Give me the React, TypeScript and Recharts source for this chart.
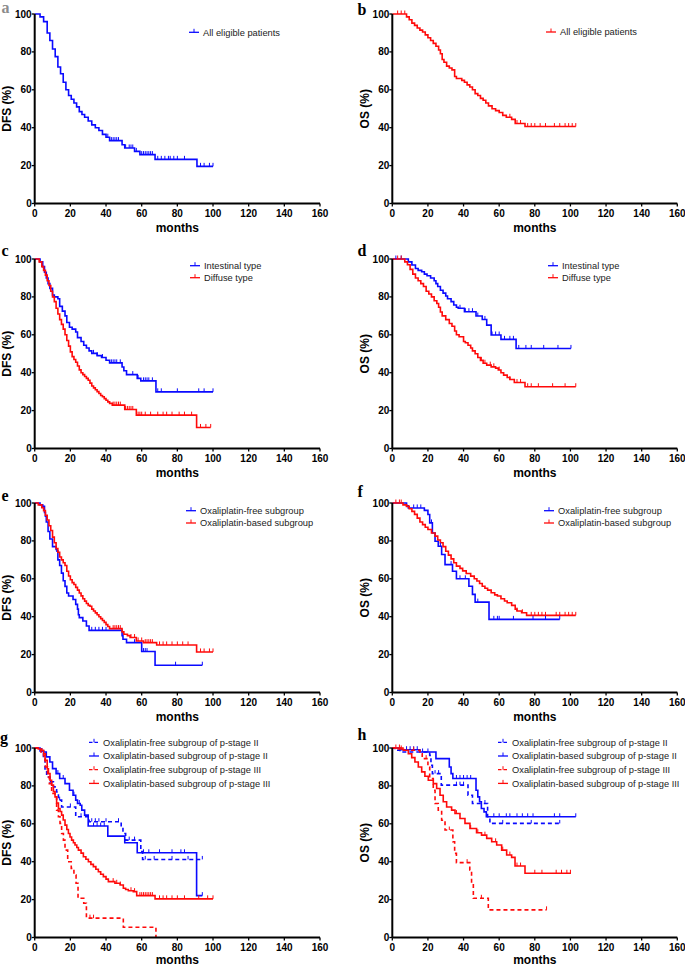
import React from 'react';
import { LineChart, Line, XAxis, YAxis } from 'recharts';

const X_TICKS = [0, 20, 40, 60, 80, 100, 120, 140, 160];
const Y_TICKS = [0, 20, 40, 60, 80, 100];
const BLUE = '#0a0aff';
const RED = '#ff0a0a';
const SANS = "'Liberation Sans', Arial, sans-serif";

// a: DFS, all eligible patients
const aT = [0, 3, 5, 7, 8.5, 10, 11.5, 13, 14.5, 16, 17.5, 19, 20.5, 22, 23.5, 25, 26.5, 28, 30, 32, 34, 36, 38, 40, 42, 49, 50.5, 56, 59, 67.5, 91, 100];
const aS = [100, 98.5, 96, 90, 86, 81.5, 77.5, 72, 68.5, 64, 60, 57, 55, 53, 51, 48.5, 47, 45.5, 43.5, 41.5, 40, 38.5, 36.5, 35, 33.2, 31, 29.3, 27.5, 25.8, 23.3, 19.6, 19.6];
const aC = [41, 43, 44, 45, 46, 47, 51, 53, 54, 55, 57, 60, 61, 62, 63, 64, 65, 66, 69, 71, 73, 75, 76, 78, 80, 84, 93, 95, 98, 100];

// b: OS, all eligible patients
const bT = [0, 8, 9.5, 11, 12.5, 14, 15.5, 17, 18.5, 20, 21.5, 23, 24.5, 26, 27, 28, 29, 30.5, 32, 33.5, 35, 36, 39, 40.5, 42, 43.5, 45, 46.5, 48, 49.5, 51, 52.5, 54, 56, 58, 60, 62, 64, 67, 69, 74.5, 103];
const bS = [100, 98.5, 97, 95.2, 94, 92.6, 91.5, 90.5, 89, 87.5, 86, 84.5, 83, 81, 79, 76, 74.5, 72.5, 71.5, 70.5, 67, 66, 65, 64, 62.6, 61.5, 60, 58, 57, 55.5, 54.5, 53, 51.5, 50, 49, 48, 46.5, 45.5, 44.4, 42.2, 40.6, 40.6];
const bC = [3, 5, 7, 66, 70, 72, 76, 78, 80, 83, 86, 91, 94, 97, 99, 101, 103];

// c: DFS by Lauren type
const cIntT = [0, 3, 4.5, 5.5, 6.5, 7.5, 8.5, 10, 11, 13, 14, 15.5, 17, 18, 19.5, 21, 23, 24, 26, 27.5, 29, 30.5, 32, 35, 37.5, 40, 42, 49, 50, 51.5, 57.5, 59.5, 68, 100];
const cIntS = [100, 98.5, 96, 93, 90, 87, 84.5, 81, 80, 79, 75, 72.5, 70, 66.5, 64, 63, 61.5, 58.5, 56.5, 54.5, 53, 51.5, 50.2, 49, 48, 46.6, 45.2, 43, 41, 39, 37, 35.7, 29.9, 29.9];
const cIntC = [33, 35, 38, 43, 44, 45, 46, 48, 55, 58, 61, 62, 63, 64, 66, 69, 71, 80, 92, 95, 100];
const cDifT = [0, 2.5, 4, 5, 6, 7, 8, 9, 10, 11, 12, 13, 14, 15, 16, 17, 18, 19, 20, 21, 22, 23, 24, 25, 26, 27, 28, 29, 30, 31, 32, 33, 34, 35, 36, 37, 38, 39, 40, 41, 42, 43.5, 50.5, 57, 90.8, 98.7];
const cDifS = [100, 98.5, 96, 94, 91.5, 88.5, 86, 83, 80, 77.5, 74, 71, 68, 65.5, 63, 60, 57, 54, 51, 48.5, 47, 45.5, 43.5, 41.5, 40, 39, 38, 37, 36, 34.5, 33, 32, 31, 30, 29, 28, 27.3, 26.3, 25.5, 24.6, 23.8, 22.9, 20.6, 17.6, 11.1, 11.1];
const cDifC = [44, 45, 46, 47, 48, 51, 52, 53, 54, 55, 58, 59, 60, 62, 65, 69, 72, 74, 77, 81, 84, 88, 93, 96, 98.7];

// d: OS by Lauren type
const dIntT = [0, 9, 11, 13, 14.5, 16.5, 18, 19.5, 21.5, 23.5, 24.5, 25.5, 27, 28.5, 30, 31, 33, 34.5, 36, 37, 40.5, 47, 50.5, 53, 55.5, 61, 69.5, 100.3];
const dIntS = [100, 98.5, 96.8, 95, 94, 93.3, 92, 91.2, 90, 88.5, 87, 85.5, 83.5, 82, 80.5, 79, 77.5, 75.7, 74.5, 74, 72.2, 69.9, 68.1, 65.1, 59.9, 57.6, 52.8, 52.8];
const dIntC = [2, 5, 38, 41, 43, 45, 48, 52, 56, 58, 60, 63, 66, 68, 71, 75, 78, 85, 93, 100.3];
const dDifT = [0, 7, 8.5, 10, 11.5, 13, 14.5, 16, 17.5, 19, 20.5, 22, 23.5, 25, 26, 27, 28, 30, 32, 33.5, 35, 36, 37.5, 40, 41, 42.5, 44, 45, 46.5, 48, 49.5, 51, 53, 55.5, 58, 59.5, 61, 62.5, 64.5, 66, 68.5, 74.5, 103];
const dDifS = [100, 98.5, 97, 94.5, 92, 90, 88.5, 87, 85.5, 83, 81.5, 80, 78, 76.5, 74.5, 72, 70, 68, 66, 64.5, 62, 60, 59, 56.5, 55.8, 54.5, 53, 51.5, 50, 48, 46.5, 45, 44, 43.1, 42.4, 41.4, 40, 38.7, 37.5, 36.4, 34.8, 32.6, 32.6];
const dDifC = [3, 5, 50, 52, 55, 57, 60, 66, 70, 72, 76, 78, 82, 90, 97, 103];

// e: DFS by chemotherapy regimen
const eFreeT = [0, 3, 4.5, 5.5, 6, 6.5, 7.5, 8.5, 10, 12, 12.5, 13, 14, 15, 16, 17, 18, 19, 21.5, 23, 24, 24.5, 25, 27, 29, 30.5, 49, 49.5, 51.5, 60, 67.5, 94];
const eFreeS = [100, 99, 98.2, 95, 93, 90, 85, 81, 77, 75.5, 74.6, 70, 67, 63, 59, 56, 52.5, 50.9, 49.1, 46.5, 44, 41, 39.5, 37.7, 35.1, 32.8, 30, 28.1, 26.3, 21.6, 14.4, 14.4];
const eFreeC = [32, 34, 36, 38, 40, 56, 61, 62, 63, 79, 94];
const eBasedT = [0, 2, 4, 5, 6, 7, 8, 9, 10, 11, 12, 13, 14, 15, 16, 17, 18, 19, 20, 21, 22, 23, 24, 25, 26, 27, 28, 29, 30, 31, 32, 33, 34, 35, 36, 37, 38, 39, 40, 41, 42, 49, 50, 52, 53.5, 57, 61, 68.4, 90.8, 100];
const eBasedS = [100, 99, 97.5, 96, 93.5, 91, 88, 85.5, 82, 79, 76, 74, 71.5, 70, 68.5, 67, 64, 61.5, 59.5, 58, 57, 55.5, 54, 52.5, 51, 49.5, 48.2, 47, 46, 45.5, 44, 43, 42, 41, 40, 39, 38, 37, 35.8, 34.8, 33.7, 32, 30.7, 30, 29, 27.2, 26.3, 25.1, 21.4, 21.4];
const eBasedC = [44, 45, 46, 47, 48, 54, 56, 58, 60, 62, 63, 64, 65, 66, 70, 72, 74, 77, 80, 83, 86, 93, 95, 98, 100];

// f: OS by chemotherapy regimen
const fFreeT = [0, 8, 9, 18, 20, 21, 22.5, 24, 25.8, 27.7, 29.6, 33.8, 36, 43, 45, 46.5, 54.3, 94];
const fFreeS = [100, 98.5, 97.4, 96.1, 93.9, 89.5, 84.2, 79.8, 77.2, 72.8, 67.5, 64, 60, 56.1, 51.8, 47.7, 38.6, 38.6];
const fFreeC = [12, 14, 16, 22, 27, 33, 38, 41, 48, 57, 59, 60, 68, 79, 86, 94];
const fBasedT = [0, 6, 8, 9.5, 11, 12.5, 14, 15.5, 17, 18.5, 20, 22, 24, 25.5, 27, 28.5, 30, 31.5, 33, 34.5, 36, 38, 39.5, 41.5, 44, 46, 47.5, 49, 50.5, 52, 53.5, 55.5, 57.5, 59, 61, 63, 64.5, 67, 69, 70, 72.6, 75.4, 103];
const fBasedS = [100, 99, 98.2, 97, 95.6, 94, 92, 90, 88.6, 87.2, 86, 84.2, 82.5, 80.5, 79, 77, 74.5, 72.5, 70.5, 68.5, 66.7, 65.5, 64.2, 62.8, 61.4, 60, 58.8, 57.5, 56.1, 55, 54, 52.6, 51.5, 50.9, 49.5, 48.3, 47.4, 46, 44, 43, 42.1, 40.7, 40.7];
const fBasedC = [2, 4, 5, 70, 73, 78, 80, 82, 84, 86, 92, 94, 97, 99, 101, 103];

// g: DFS by regimen within p-stage
const gFree2T = [0, 3.9, 4.9, 5.8, 6.7, 8.6, 10.5, 12.3, 13.3, 15.1, 23, 30.5, 48.5, 49.5, 51, 59.5, 60.5, 94];
const gFree2S = [100, 97.9, 94.4, 88.2, 84.7, 82.1, 79.5, 76.8, 72.5, 68.9, 63.7, 61.1, 58.4, 54.9, 51.4, 45.3, 41.2, 41.2];
const gFree2C = [14, 20, 26, 32, 34, 36, 40, 47, 53, 56, 62, 67, 77, 86, 94];
const gBased2T = [0, 3, 5, 6.5, 8.5, 10, 12, 14, 17, 19.5, 21.5, 23, 24, 25.5, 26.4, 28, 30, 41, 50.5, 57.5, 90.8, 94];
const gBased2S = [100, 98.5, 97.9, 95.3, 92.6, 89.1, 86.5, 83.9, 81.2, 77.7, 75.1, 72.5, 70.7, 69.8, 67.2, 64.6, 58.8, 53.5, 50, 44.7, 22.1, 22.1];
const gBased2C = [10, 13, 16, 22, 25, 33, 35, 37, 39, 61, 64, 70, 77, 82, 84, 94];
const gFree3T = [0, 3.5, 6, 7.2, 8.2, 9.5, 11.4, 12.3, 13.3, 14.2, 15.1, 16.1, 17, 18.5, 20.5, 22, 23.2, 24.3, 27.5, 29, 49.7, 68];
const gFree3S = [100, 97, 90, 84.7, 81.2, 76, 74.2, 67.2, 63.7, 60.2, 54.9, 51.4, 46.1, 40, 36.5, 33, 28.6, 20.7, 18.1, 10.2, 5.4, 0];
const gFree3C = [31, 33];
const gBased3T = [0, 2, 3.9, 5, 5.8, 7, 7.7, 8.6, 9.5, 10.5, 11.4, 12.3, 13.3, 14.2, 15.1, 16, 17, 18, 18.9, 19.8, 20.7, 21.7, 22.6, 23.6, 24.5, 26, 27.3, 28.7, 30.1, 31.5, 32.9, 34.3, 35.7, 37, 38.5, 40, 41.3, 45, 47.9, 49.7, 51, 52.5, 55.3, 57.2, 67.5, 100];
const gBased3S = [100, 99.5, 98.8, 96, 93.5, 89, 86.5, 83, 80.4, 77, 74.2, 71, 68.1, 66.5, 64.6, 62, 59.3, 57, 54.9, 53, 51.4, 50, 48.8, 47.5, 46.1, 44.5, 42.6, 41.3, 40, 38.6, 37.4, 36, 34.7, 33.4, 32.1, 30.8, 29.5, 28.6, 27.7, 26, 25.3, 24.7, 24.2, 22.1, 20.4, 20.4];
const gBased3C = [44, 46, 48, 54, 56, 59, 60, 61, 62, 63, 64, 65, 66, 70, 72, 74, 77, 80, 84, 92, 97, 100];

// h: OS by regimen within p-stage
const hFree2T = [0, 1.5, 4.3, 21, 21.7, 22.5, 27.5, 42.5, 45, 53.5, 54.8, 94];
const hFree2S = [100, 98.8, 97.9, 96.1, 90.9, 86.5, 80.4, 75.1, 70.7, 63.7, 60.2, 60.2];
const hFree2C = [24, 26, 36, 38, 40, 52, 62, 78, 94];
const hBased2T = [0, 4.3, 15.5, 24.5, 32, 33, 34, 47, 48, 49, 50, 51.5, 52.8, 103];
const hBased2S = [100, 99.1, 97.9, 94.4, 90, 86.5, 83.9, 77.7, 74.2, 71.6, 68.1, 66.3, 63.7, 63.7];
const hBased2C = [8, 10, 12, 14, 17, 20, 36, 38, 40, 42, 44, 57, 60, 64, 66, 70, 73, 76, 79, 91, 94, 103];
const hFree3T = [0, 6, 15.5, 16.8, 20, 21, 23, 24, 25.8, 27.7, 29.6, 34, 35, 36, 43.5, 44.5, 45.5, 53.9, 86.6];
const hFree3S = [100, 98.8, 97, 94.4, 90, 83.9, 77.7, 70.7, 67.2, 61.9, 56.7, 50.5, 44.4, 39.5, 35.6, 28.6, 20.7, 14.6, 14.6];
const hFree3C = [4, 12, 19, 32, 42, 50, 86.6];
const hBased3T = [0, 3.4, 6.2, 9, 10.9, 12.7, 14.6, 16.5, 18.3, 20.2, 23, 24.9, 26.8, 28.6, 30.5, 33.3, 35.2, 38, 40.8, 43.6, 47.3, 50.1, 53, 55.8, 58.6, 61.4, 64.2, 67, 68.9, 74.5, 100.3];
const hBased3S = [100, 99.5, 98.8, 97, 94.9, 92.6, 90, 87.4, 85.1, 83, 81.2, 78.6, 75.1, 71.6, 68.9, 67.2, 65.4, 62.8, 60.2, 57.5, 55.3, 54, 52.3, 50.5, 48.8, 46.1, 43.5, 42.3, 37.7, 33.9, 33.9];
const hBased3C = [2, 5, 36, 44, 48, 52, 58, 62, 66, 70, 72, 80, 84, 92, 95, 98, 100];

type Curve = { name: string; color: string; dashed?: boolean; t: number[]; s: number[]; cens: number[] };
type Pt = { t: number; s: number; c: number };

function buildData(cv: Curve): Pt[] {
  const pts: Pt[] = cv.t.map((t, i) => ({ t, s: cv.s[i], c: 0 }));
  cv.cens.forEach((ct) => {
    let v = cv.s[0];
    cv.t.forEach((t, i) => {
      if (t <= ct) v = cv.s[i];
    });
    pts.push({ t: ct, s: v, c: 1 });
  });
  return pts.sort((p, q) => p.t - q.t || p.c - q.c);
}

const censorDot = (color: string) => (props: any) => {
  const { cx, cy, payload, index } = props;
  if (!payload || !payload.c) return <g key={`n${index}`} />;
  return <line key={`c${index}`} x1={cx} x2={cx} y1={cy - 3.5} y2={cy} stroke={color} strokeWidth={1} />;
};

const ONE_FREE = 'Oxaliplatin-free subgroup';
const ONE_BASED = 'Oxaliplatin-based subgroup';

const panels = [
  { letter: 'a', col: 0, row: 0, ylabel: 'DFS (%)', lx: 189, ly: 32.3, ldy: 12,
    curves: [{ name: 'All eligible patients', color: BLUE, t: aT, s: aS, cens: aC }] },
  { letter: 'b', col: 1, row: 0, ylabel: 'OS (%)', lx: 546, ly: 32, ldy: 12,
    curves: [{ name: 'All eligible patients', color: RED, t: bT, s: bS, cens: bC }] },
  { letter: 'c', col: 0, row: 1, ylabel: 'DFS (%)', lx: 190, ly: 265.7, ldy: 12,
    curves: [
      { name: 'Intestinal type', color: BLUE, t: cIntT, s: cIntS, cens: cIntC },
      { name: 'Diffuse type', color: RED, t: cDifT, s: cDifS, cens: cDifC },
    ] },
  { letter: 'd', col: 1, row: 1, ylabel: 'OS (%)', lx: 548, ly: 265.7, ldy: 12,
    curves: [
      { name: 'Intestinal type', color: BLUE, t: dIntT, s: dIntS, cens: dIntC },
      { name: 'Diffuse type', color: RED, t: dDifT, s: dDifS, cens: dDifC },
    ] },
  { letter: 'e', col: 0, row: 2, ylabel: 'DFS (%)', lx: 186, ly: 510.7, ldy: 12.3,
    curves: [
      { name: ONE_FREE, color: BLUE, t: eFreeT, s: eFreeS, cens: eFreeC },
      { name: ONE_BASED, color: RED, t: eBasedT, s: eBasedS, cens: eBasedC },
    ] },
  { letter: 'f', col: 1, row: 2, ylabel: 'OS (%)', lx: 544, ly: 510.7, ldy: 12.3,
    curves: [
      { name: ONE_FREE, color: BLUE, t: fFreeT, s: fFreeS, cens: fFreeC },
      { name: ONE_BASED, color: RED, t: fBasedT, s: fBasedS, cens: fBasedC },
    ] },
  { letter: 'g', col: 0, row: 3, ylabel: 'DFS (%)', lx: 89, ly: 742.3, ldy: 13.7,
    curves: [
      { name: 'Oxaliplatin-free subgroup of p-stage II', color: BLUE, dashed: true, t: gFree2T, s: gFree2S, cens: gFree2C },
      { name: 'Oxaliplatin-based subgroup of p-stage II', color: BLUE, t: gBased2T, s: gBased2S, cens: gBased2C },
      { name: 'Oxaliplatin-free subgroup of p-stage III', color: RED, dashed: true, t: gFree3T, s: gFree3S, cens: gFree3C },
      { name: 'Oxaliplatin-based subgroup of p-stage III', color: RED, t: gBased3T, s: gBased3S, cens: gBased3C },
    ] },
  { letter: 'h', col: 1, row: 3, ylabel: 'OS (%)', lx: 498, ly: 742.3, ldy: 13.7,
    curves: [
      { name: 'Oxaliplatin-free subgroup of p-stage II', color: BLUE, dashed: true, t: hFree2T, s: hFree2S, cens: hFree2C },
      { name: 'Oxaliplatin-based subgroup of p-stage II', color: BLUE, t: hBased2T, s: hBased2S, cens: hBased2C },
      { name: 'Oxaliplatin-free subgroup of p-stage III', color: RED, dashed: true, t: hFree3T, s: hFree3S, cens: hFree3C },
      { name: 'Oxaliplatin-based subgroup of p-stage III', color: RED, t: hBased3T, s: hBased3S, cens: hBased3C },
    ] },
];

// layout
const COLS = [
  { left: 0, ml: 4.7, mr: 20 },
  { left: 345, ml: 17.3, mr: 7.7 },
];
const ROW_TOPS = [14.3, 259, 503.3, 747.7];
// bottom row's x label sits at the page edge; lift it a little so it is not clipped
const MONTHS_OFFSET = [1.5, 1.5, 1.5, 4];
const LETTERS: Record<string, [number, number, string]> = {
  a: [1.5, 12.7, '#8c8c8c'], b: [357.5, 15, '#000'], c: [1.5, 256, '#000'], d: [357.5, 256, '#000'],
  e: [1.5, 501, '#000'], f: [357.5, 496.7, '#000'], g: [0, 742.7, '#000'], h: [357.5, 740, '#000'],
};
const CHART_W = 340;
const PLOT_H = 189.5;
const TOP_PAD = 14;
const XAXIS_H = 30;
const BOTTOM_PAD = 6;

const tickStyle = { fontSize: 10, fontWeight: 'bold' as const, fill: '#000', fontFamily: SANS };

function Panel({ p }: { p: (typeof panels)[number] }) {
  const col = COLS[p.col];
  const top = ROW_TOPS[p.row] - TOP_PAD;
  return (
    <div style={{ position: 'absolute', left: col.left, top }}>
      <LineChart
        width={CHART_W}
        height={TOP_PAD + PLOT_H + XAXIS_H + BOTTOM_PAD}
        margin={{ top: TOP_PAD, right: col.mr, bottom: BOTTOM_PAD, left: col.ml }}
        style={{ fontFamily: SANS }}
      >
        <XAxis
          type="number"
          dataKey="t"
          domain={[0, 160]}
          ticks={X_TICKS}
          height={XAXIS_H}
          axisLine={{ stroke: '#000', strokeWidth: 2 }}
          tickLine={{ stroke: '#000', strokeWidth: 1.3 }}
          tickSize={3}
          tickMargin={3}
          tick={tickStyle}
          interval={0}
          label={{ value: 'months', position: 'insideBottom', offset: MONTHS_OFFSET[p.row], style: { fontSize: 12, fontWeight: 'bold', fill: '#000', fontFamily: SANS } }}
        />
        <YAxis
          type="number"
          domain={[0, 100]}
          ticks={Y_TICKS}
          width={30}
          axisLine={{ stroke: '#000', strokeWidth: 2 }}
          tickLine={{ stroke: '#000', strokeWidth: 1.3 }}
          tickSize={3}
          tickMargin={0}
          tick={tickStyle}
          interval={0}
          label={{ value: p.ylabel, angle: -90, position: 'insideLeft', offset: 2, style: { textAnchor: 'middle', fontSize: 12, fontWeight: 'bold', fill: '#000', fontFamily: SANS } }}
        />
        {p.curves.map((cv: Curve) => (
          <Line
            key={cv.name}
            data={buildData(cv)}
            dataKey="s"
            type="stepAfter"
            stroke={cv.color}
            strokeWidth={1.6}
            strokeDasharray={cv.dashed ? '4 3' : undefined}
            dot={censorDot(cv.color)}
            activeDot={false}
            isAnimationActive={false}
          />
        ))}
      </LineChart>
    </div>
  );
}

function Overlay() {
  return (
    <svg width={685} height={967} style={{ position: 'absolute', left: 0, top: 0, pointerEvents: 'none' }}>
      {panels.map((p) => {
        const [lx, ly, lc] = LETTERS[p.letter];
        return (
          <g key={p.letter}>
            <text x={lx} y={ly} fontFamily="'Liberation Serif', 'Times New Roman', serif" fontWeight="bold" fontSize={16} fill={lc}>
              {p.letter}
            </text>
            {p.curves.map((cv: Curve, i: number) => {
              const y = p.ly + i * p.ldy;
              return (
                <g key={cv.name}>
                  <line x1={p.lx} x2={p.lx + 10} y1={y} y2={y} stroke={cv.color} strokeWidth={1.3} strokeDasharray={cv.dashed ? '3.5 2' : undefined} />
                  <line x1={p.lx + 5} x2={p.lx + 5} y1={y - 3.5} y2={y} stroke={cv.color} strokeWidth={1} />
                  <text x={p.lx + 14} y={y + 3.3} fontFamily={SANS} fontSize={9.3} fill="#222">
                    {cv.name}
                  </text>
                </g>
              );
            })}
          </g>
        );
      })}
    </svg>
  );
}

export default function App() {
  return (
    <div style={{ position: 'absolute', left: 0, top: 0, width: 685, height: 967, background: '#fff', overflow: 'hidden' }}>
      {panels.map((p) => (
        <Panel key={p.letter} p={p} />
      ))}
      <Overlay />
    </div>
  );
}
